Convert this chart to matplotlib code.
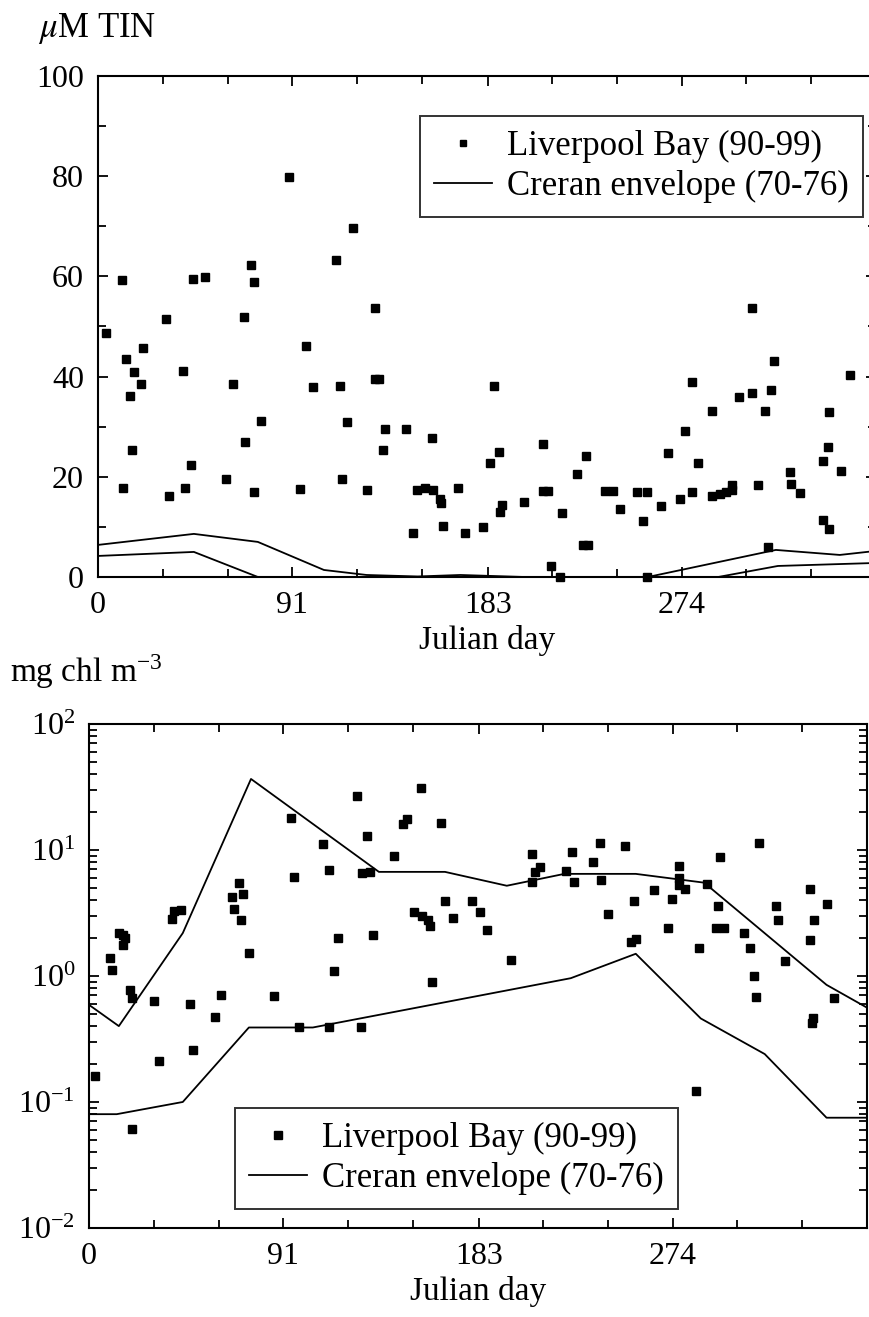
import math
import matplotlib
matplotlib.use("Agg")
import matplotlib.pyplot as plt
from matplotlib.ticker import FixedLocator, NullFormatter, LogLocator, FuncFormatter

plt.rcParams['font.family'] = ['Liberation Serif', 'DejaVu Serif']
plt.rcParams['mathtext.fontset'] = 'stix'

# ---------------- data ----------------
tick_days = [0, 91, 183, 274]
tick_labels = ["0", "91", "183", "274"]
month_ticks = [30.4, 60.8, 121.7, 152.1, 212.9, 243.3, 304.2, 334.6]

tin_day = [4, 11.3, 21, 32, 44.5, 50, 68.5, 72, 73, 89.5, 97.6, 111.5, 119.5, 130, 307,
           13, 17, 15, 20, 16, 11.6, 33.5, 41, 40, 43.6, 60, 63.5, 69, 73, 76.5, 95, 101,
           113.6, 114.5, 116.7, 126.3, 130, 131.9, 134.7, 133.6, 144.5, 148, 149.6, 153.4,
           157.2, 156.6, 160.5, 161, 162, 169, 172, 180.7, 184, 188, 185.8, 189.6, 188.6,
           200, 208.8, 208.8, 211, 212.6, 216.8, 217.8, 224.8, 229, 227.6, 230, 238, 241.7,
           245, 253, 257.6, 255.7, 257.6, 264, 267.5, 273, 275.5, 278.7, 278.7, 281.5, 288,
           288, 292, 294.7, 297.5, 297.5, 300.8, 306.9, 313, 315.8, 317.2, 309.7, 314.4,
           324.7, 325.2, 329.4, 340, 342.5, 343, 340, 343, 348.7, 352.9]
tin_val = [48.7, 59.3, 45.7, 51.5, 59.5, 59.9, 51.9, 62.3, 58.9, 79.8, 46.1, 63.3, 69.7, 53.7, 53.7,
           43.5, 40.9, 36.1, 38.5, 25.3, 17.8, 16.2, 17.8, 41.1, 22.4, 19.6, 38.5, 26.9, 17.0, 31.1,
           17.6, 37.9, 38.1, 19.6, 31.0, 17.4, 39.5, 39.5, 29.5, 25.3, 29.5, 8.8, 17.4, 17.8,
           17.4, 27.7, 15.6, 14.8, 10.2, 17.8, 8.8, 10.0, 22.7, 25.0, 38.1, 14.4, 13.0,
           15.0, 26.5, 17.2, 17.2, 2.2, 0.0, 12.8, 20.6, 24.2, 6.4, 6.4, 17.2, 17.2,
           13.6, 17.0, 17.0, 11.2, 0.0, 14.2, 24.8, 15.6, 29.1, 17.0, 38.9, 22.7, 33.1,
           16.2, 16.6, 17.0, 17.4, 18.4, 35.9, 36.7, 33.1, 37.3, 43.1, 18.4, 6.0,
           21.0, 18.6, 16.8, 23.2, 26.0, 32.9, 11.4, 9.6, 21.2, 40.3]

tin_upper_day = [0, 45, 75, 106, 126, 150, 170, 185, 200, 258, 318, 348, 365]
tin_upper_val = [6.4, 8.6, 7.0, 1.4, 0.4, 0.1, 0.4, 0.2, 0.0, 0.0, 5.4, 4.4, 5.2]
tin_lower_day = [0, 45, 75, 291, 319, 365]
tin_lower_val = [4.2, 5.0, 0.0, 0.0, 2.2, 2.8]

chl_day = [2.8, 9.8, 11, 14, 16, 16, 17, 19, 20, 20, 30.4, 32.7, 39, 40, 43, 47.6, 48.6, 59, 62,
           67.3, 68.2, 71.5, 70.6, 72.4, 75, 87, 94.8, 96, 98.6, 110, 112.6, 112.6, 115, 117,
           125.8, 127.6, 128, 132, 130.5, 133, 143, 147.3, 149, 155.8, 152.5, 156, 159, 160,
           160.7, 165, 167, 170.6, 179.6, 183.5, 186.6, 198, 207.6, 207.6, 209, 211.6, 224,
           226.7, 227.6, 236.4, 239.7, 240, 243.5, 251.4, 255.6, 254.2, 256.5, 265, 271.5,
           273.4, 277, 276.6, 276.6, 279.4, 284.6, 286.4, 290, 295.8, 295.3, 294, 298, 307.5,
           310, 312, 313, 314.5, 322.4, 323.4, 326.6, 338.3, 340, 338.3, 339.7, 339.3, 346, 349.5]
chl_val = [0.16, 1.39, 1.12, 2.19, 2.1, 1.76, 2.0, 0.78, 0.67, 0.061, 0.63, 0.21, 2.83, 3.3, 3.35,
           0.60, 0.26, 0.47, 0.71, 4.2, 3.4, 2.8, 5.5, 4.5, 1.52, 0.69, 18, 6.1, 0.39, 11.2, 6.9,
           0.39, 1.1, 2.0, 26.8, 0.39, 6.6, 6.7, 12.9, 2.1, 8.9, 16, 17.7, 31, 3.2, 3.0, 2.8, 2.5,
           0.9, 16.3, 3.9, 2.9, 3.9, 3.2, 2.3, 1.34, 9.3, 5.6, 6.7, 7.3, 6.8, 9.6, 5.6, 8.0, 11.4,
           5.8, 3.1, 10.8, 3.9, 1.86, 1.97, 4.8, 2.4, 4.1, 7.5, 6.0, 5.3, 4.9, 0.122, 1.67, 5.4,
           8.8, 3.6, 2.4, 2.4, 2.2, 1.66, 1.0, 0.68, 11.4, 3.6, 2.8, 1.32, 4.9, 2.8, 1.93, 0.46,
           0.42, 3.7, 0.67]

chl_upper_day = [0, 14, 44, 76, 136, 167, 196, 223, 256.5, 288.6, 346, 365]
chl_upper_val = [0.59, 0.40, 2.19, 36.6, 6.7, 6.7, 5.2, 6.46, 6.46, 5.5, 0.85, 0.56]
chl_lower_day = [0, 13, 44, 75, 105, 226, 256.5, 287, 317, 346, 365]
chl_lower_val = [0.080, 0.080, 0.10, 0.39, 0.39, 0.96, 1.5, 0.46, 0.24, 0.075, 0.075]

# ---------------- figure ----------------
FS = 23       # tick labels
FL = 24       # axis labels
FG = 25       # legend
fig = plt.figure(figsize=(8.7, 13.17), dpi=100)
ax1 = fig.add_axes([0.1126, 0.5619, 0.8943, 0.3804])
ax2 = fig.add_axes([0.1023, 0.0676, 0.8943, 0.3827])

def style(ax):
    for s in ax.spines.values():
        s.set_linewidth(1.5)
    ax.set_xlim(0, 365)
    ax.xaxis.set_major_locator(FixedLocator(tick_days))
    ax.set_xticklabels(tick_labels)
    ax.xaxis.set_minor_locator(FixedLocator(month_ticks))
    ax.tick_params(which='both', direction='in', top=True, right=True, width=1.3,
                   labelsize=FS, pad=10)
    ax.tick_params(which='major', length=7)
    ax.tick_params(which='minor', length=6)
    ax.set_xlabel("Julian day", fontsize=FL, labelpad=4)

def make_legend(ax, **kw):
    leg = ax.legend(borderaxespad=0, fontsize=FG, frameon=True, fancybox=False,
                    edgecolor='black', handlelength=1.67, handletextpad=0.43,
                    borderpad=0.4, labelspacing=0.2, **kw)
    leg.get_frame().set_linewidth(1.4)
    return leg

# top panel
ax1.plot(tin_day, tin_val, 's', color='black', ms=6, clip_on=False, zorder=3,
         label='Liverpool Bay (90-99)')
ax1.plot(tin_upper_day, tin_upper_val, '-', color='black', lw=1.3, label='Creran envelope (70-76)')
ax1.plot(tin_lower_day, tin_lower_val, '-', color='black', lw=1.3)
style(ax1)
ax1.set_ylim(0, 100)
ax1.yaxis.set_major_locator(FixedLocator([0, 20, 40, 60, 80, 100]))
ax1.yaxis.set_minor_locator(FixedLocator([10, 30, 50, 70, 90]))
make_legend(ax1, loc='upper right', bbox_to_anchor=(0.983, 0.920), markerscale=0.7)
fig.text(0.044, 0.972, r'$\mu$M TIN', fontsize=FL + 1, ha='left', va='baseline')

# bottom panel
ax2.plot(chl_day, chl_val, 's', color='black', ms=6, zorder=3, label='Liverpool Bay (90-99)')
ax2.plot(chl_upper_day, chl_upper_val, '-', color='black', lw=1.3, label='Creran envelope (70-76)')
ax2.plot(chl_lower_day, chl_lower_val, '-', color='black', lw=1.3)
ax2.set_yscale('log')
style(ax2)
ax2.set_ylim(0.01, 100)
ax2.yaxis.set_major_locator(LogLocator(base=10, numticks=10))
ax2.yaxis.set_minor_locator(LogLocator(base=10, subs=range(2, 10), numticks=20))
ax2.yaxis.set_minor_formatter(NullFormatter())
ax2.yaxis.set_major_formatter(FuncFormatter(
    lambda v, p: r'$\mathregular{10^{%d}}$' % round(math.log10(v))))
make_legend(ax2, loc='lower left', bbox_to_anchor=(0.188, 0.038), markerscale=0.9)
fig.text(0.012, 0.482, r'mg chl m$^{\mathregular{-3}}$', fontsize=FL, ha='left', va='baseline')

fig.savefig('out.png', dpi=100)
